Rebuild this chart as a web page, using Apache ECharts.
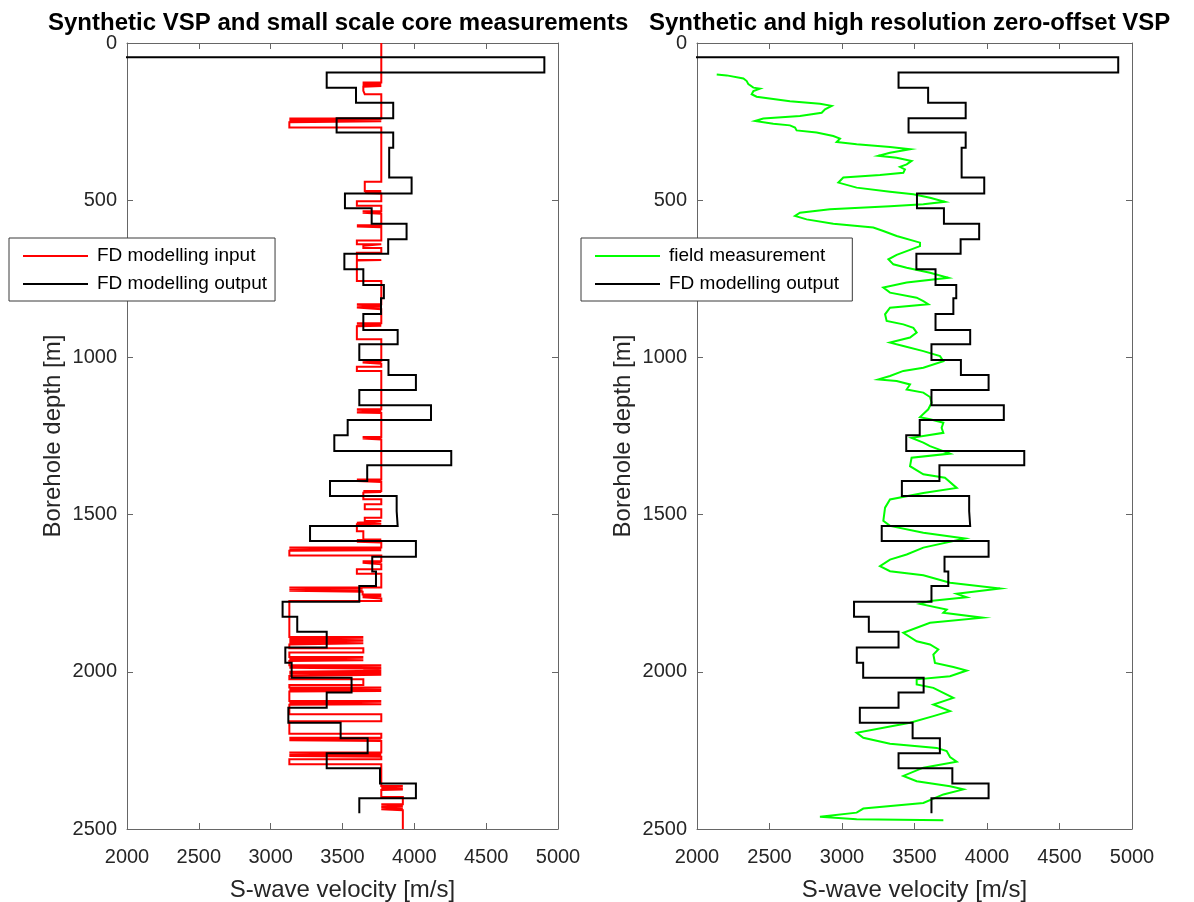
<!DOCTYPE html>
<html>
<head>
<meta charset="utf-8">
<script src="https://cdn.jsdelivr.net/npm/echarts@6/dist/echarts.min.js"></script>
<style>
  html, body { margin: 0; padding: 0; background: #fff; }
  #chart { width: 1194px; height: 902px; }
</style>
</head>
<body>
<div id="chart"></div>
<script>
// Tick values shared by both panels
const velocityTicks = [2000, 2500, 3000, 3500, 4000, 4500, 5000];
const depthTicks = [0, 500, 1000, 1500, 2000, 2500];

// FD modelling input: layer top depth [m] and S-wave velocity [m/s]
const inputTop = [
  0,
  126, 128, 130, 132, 134, 137, 139, 152, 163,
  240, 243, 246, 249, 252, 269,
  441, 471, 473, 475, 477, 479,
  503, 518,
  535, 538, 540, 543,
  580, 582, 584, 586,
  628, 640,
  645, 652,
  667, 690, 692, 757,
  831, 834, 836, 839, 841, 847,
  891, 894, 896, 899, 901, 942,
  1011, 1014, 1016, 1020,
  1030, 1043,
  1165, 1168, 1170, 1173, 1175, 1177,
  1253, 1256, 1258, 1261,
  1388, 1391, 1393, 1396,
  1425, 1428, 1430, 1451,
  1467, 1483,
  1510, 1520,
  1526, 1529, 1531, 1553, 1579, 1581, 1584, 1586, 1589,
  1605, 1608, 1610, 1613, 1615, 1630,
  1648, 1651, 1653, 1658,
  1674, 1688,
  1732, 1735, 1737, 1740, 1742, 1745, 1754, 1757, 1760, 1763, 1767,
  1775,
  1889, 1892, 1894, 1897, 1899, 1902, 1904, 1907, 1909, 1913,
  1925, 1939,
  1953, 1956, 1958, 1961, 1963, 1966,
  1979, 1982, 1984, 1987, 1990, 1995, 1997, 2000, 2003, 2006, 2009, 2013,
  2024, 2042,
  2050, 2053, 2055, 2058, 2061, 2063,
  2093, 2096, 2098, 2101, 2103, 2105,
  2135, 2157,
  2197,
  2210, 2212, 2214, 2216, 2218, 2220,
  2257, 2260, 2262, 2265, 2268, 2270,
  2278, 2294,
  2363, 2366, 2368, 2371, 2374, 2376,
  2398,
  2421, 2424, 2426, 2429, 2432, 2435, 2437, 2440
];
const inputVel = [
  3770,
  3640, 3770, 3640, 3770, 3640, 3770, 3645, 3655, 3770,
  3130, 3770, 3130, 3770, 3130, 3770,
  3655, 3770, 3655, 3770, 3655, 3770,
  3600, 3770,
  3640, 3770, 3640, 3770,
  3600, 3770, 3600, 3770,
  3600, 3770,
  3645, 3770,
  3600, 3770, 3600, 3770,
  3600, 3770, 3600, 3770, 3600, 3770,
  3600, 3770, 3600, 3770, 3600, 3770,
  3640, 3770, 3640, 3770,
  3600, 3770,
  3600, 3770, 3600, 3770, 3600, 3770,
  3640, 3770, 3640, 3770,
  3600, 3770, 3600, 3770,
  3645, 3770, 3645, 3770,
  3655, 3770,
  3655, 3770,
  3600, 3770, 3600, 3645, 3770, 3600, 3770, 3600, 3770,
  3130, 3770, 3130, 3770, 3130, 3770,
  3640, 3770, 3640, 3770,
  3600, 3770,
  3130, 3640, 3130, 3640, 3130, 3640, 3770, 3640, 3770, 3640, 3770,
  3130,
  3645, 3130, 3645, 3130, 3645, 3130, 3645, 3130, 3645, 3130,
  3645, 3130,
  3645, 3130, 3645, 3130, 3645, 3130,
  3770, 3130, 3770, 3130, 3770, 3645, 3770, 3130, 3770, 3130, 3770, 3130,
  3645, 3130,
  3770, 3130, 3770, 3130, 3770, 3130,
  3770, 3130, 3770, 3130, 3770, 3130,
  3770, 3130,
  3770,
  3130, 3770, 3130, 3770, 3130, 3770,
  3130, 3770, 3130, 3770, 3130, 3770,
  3130, 3770,
  3920, 3770, 3920, 3770, 3920, 3770,
  3920,
  3770, 3920, 3770, 3920, 3770, 3920, 3770, 3920
];
const inputBase = 2500;

// FD modelling output: layer top depth [m] and S-wave velocity [m/s]
const outputTop = [
  0, 45, 94, 142, 190, 239, 285, 333, 428, 479,
  526, 575, 624, 670, 720, 770, 812, 862, 913, 958,
  1008, 1056, 1104, 1152, 1199, 1248, 1298, 1343, 1393, 1441,
  1489, 1536, 1584, 1634, 1681, 1727, 1777, 1825, 1873, 1923,
  1971, 2019, 2066, 2114, 2162, 2211, 2259, 2307, 2355, 2402
];
const outputVel = [
  0, 4905, 3390, 3594, 3853, 3459, 3853, 3825, 3981, 3517,
  3703, 3946, 3818, 3513, 3645, 3788, 3768, 3645, 3884, 3617,
  3820, 4011, 3617, 4116, 3536, 3443, 4257, 3672, 3413, 3877,
  3884, 3274, 4011, 3707, 3733, 3617, 3083, 3185, 3390, 3102,
  3146, 3563, 3390, 3123, 3487, 3675, 3390, 3761, 4011, 3617
];
const outputBase = 2450;

// Field measurement (high resolution zero-offset VSP)
const fieldDepth = [
  100, 103, 113, 121, 131, 142, 145, 153, 163, 171,
  185, 193, 200, 211, 222, 232, 240, 248, 257, 262,
  269, 278, 285, 296, 304, 315, 322, 331, 338, 349,
  359, 365, 375, 386, 394, 402, 413, 420, 428, 444,
  460, 473, 481, 492, 505, 513, 519, 529, 540, 550,
  561, 575, 587, 598, 614, 635, 646, 662, 674, 688,
  704, 715, 731, 747, 762, 778, 794, 810, 821, 831,
  842, 863, 884, 895, 906, 921, 937, 953, 964, 980,
  996, 1012, 1033, 1043, 1059, 1070, 1075, 1086, 1102, 1112,
  1126, 1144, 1165, 1190, 1197, 1208, 1224, 1240, 1256, 1271,
  1282, 1306, 1319, 1346, 1372, 1383, 1415, 1431, 1452, 1478,
  1520, 1536, 1558, 1576, 1605, 1627, 1643, 1664, 1680, 1693,
  1717, 1735, 1752, 1763, 1775, 1784, 1802, 1812, 1828, 1844,
  1876, 1903, 1913, 1929, 1945, 1972, 1985, 1996, 2014, 2024,
  2040, 2051, 2083, 2104, 2125, 2141, 2162, 2194, 2210, 2229,
  2242, 2252, 2271, 2286, 2305, 2331, 2348, 2364, 2374, 2390,
  2417, 2435, 2448, 2461, 2469, 2472
];
const fieldVel = [
  2136, 2205, 2320, 2343, 2354, 2389, 2434, 2389, 2377, 2411,
  2641, 2848, 2929, 2883, 2860, 2710, 2457, 2400, 2526, 2641,
  2676, 2687, 2825, 2940, 2986, 2963, 3101, 3331, 3469, 3331,
  3251, 3377, 3480, 3446, 3400, 3434, 3423, 3262, 3009, 2975,
  3101, 3331, 3492, 3607, 3710, 3561, 3331, 2917, 2710, 2676,
  2756, 2940, 3216, 3285, 3377, 3538, 3538, 3446, 3377, 3320,
  3354, 3446, 3607, 3733, 3446, 3285, 3331, 3515, 3561, 3595,
  3331, 3297, 3308, 3423, 3492, 3515, 3469, 3331, 3423, 3561,
  3676, 3699, 3561, 3423, 3331, 3251, 3377, 3469, 3446, 3561,
  3607, 3618, 3595, 3538, 3607, 3699, 3687, 3699, 3480, 3561,
  3607, 3745, 3480, 3469, 3561, 3710, 3791, 3561, 3331, 3297,
  3285, 3331, 3561, 3848, 3561, 3446, 3331, 3262, 3331, 3561,
  3745, 4090, 3791, 3860, 3607, 3538, 3722, 3699, 3970, 3607,
  3423, 3515, 3607, 3664, 3630, 3641, 3768, 3860, 3745, 3515,
  3515, 3630, 3768, 3630, 3745, 3630, 3469, 3101, 3147, 3331,
  3653, 3722, 3745, 3791, 3561, 3423, 3515, 3745, 3837, 3699,
  3561, 3147, 3101, 2848, 3101, 3699
];

// Turn a layered model into a staircase path of [velocity, depth] points
function stairs(tops, vels, base) {
  const pts = [];
  for (let i = 0; i < tops.length; i++) {
    const bottom = i + 1 < tops.length ? tops[i + 1] : base;
    pts.push([vels[i], tops[i]]);
    pts.push([vels[i], bottom]);
  }
  return pts;
}

const FONT = 'Liberation Sans, Arial, Helvetica, sans-serif';
const AXIS_COLOR = '#666666';
const LABEL_COLOR = '#262626';
const plain = v => String(v);

function xAxes(gridIndex) {
  const common = {
    gridIndex: gridIndex, type: 'value',
    min: velocityTicks[0], max: velocityTicks[velocityTicks.length - 1],
    interval: velocityTicks[1] - velocityTicks[0],
    splitLine: { show: false },
    axisLine: { show: true, onZero: false, lineStyle: { color: AXIS_COLOR, width: 1 } },
    axisTick: { show: true, inside: true, length: 6, lineStyle: { color: AXIS_COLOR, width: 1 } }
  };
  return [
    Object.assign({}, common, {
      position: 'bottom',
      name: 'S-wave velocity [m/s]', nameLocation: 'middle', nameGap: 49,
      nameTextStyle: { fontFamily: FONT, fontSize: 24, color: LABEL_COLOR },
      axisLabel: { fontFamily: FONT, fontSize: 20, color: LABEL_COLOR, margin: 18, formatter: plain }
    }),
    Object.assign({}, common, { position: 'top', axisLabel: { show: false } })
  ];
}

function yAxes(gridIndex) {
  const common = {
    gridIndex: gridIndex, type: 'value', inverse: true,
    min: depthTicks[0], max: depthTicks[depthTicks.length - 1],
    interval: depthTicks[1] - depthTicks[0],
    splitLine: { show: false },
    axisLine: { show: true, onZero: false, lineStyle: { color: AXIS_COLOR, width: 1 } },
    axisTick: { show: true, inside: true, length: 6, lineStyle: { color: AXIS_COLOR, width: 1 } }
  };
  return [
    Object.assign({}, common, {
      position: 'left',
      name: 'Borehole depth [m]', nameLocation: 'middle', nameGap: 62, nameRotate: 90,
      nameTextStyle: { fontFamily: FONT, fontSize: 24, color: LABEL_COLOR },
      axisLabel: { fontFamily: FONT, fontSize: 20, color: LABEL_COLOR, margin: 10, formatter: plain }
    }),
    Object.assign({}, common, { position: 'right', axisLabel: { show: false } })
  ];
}

function legend(left, names) {
  return {
    orient: 'vertical', left: left, top: 238,
    data: names,
    icon: 'rect',
    backgroundColor: '#ffffff',
    borderColor: '#3a3a3a', borderWidth: 1,
    padding: [7, 8, 6, 14],
    itemWidth: 65, itemHeight: 2, itemGap: 6,
    textStyle: { fontFamily: FONT, fontSize: 19, color: '#000', lineHeight: 22, padding: [0, 0, 0, 4] }
  };
}

function lineSeries(name, data, color, xi, yi, z) {
  return {
    name: name, type: 'line', data: data,
    xAxisIndex: xi, yAxisIndex: yi,
    symbol: 'none', showSymbol: false, smooth: false,
    lineStyle: { color: color, width: 2, join: 'miter' },
    itemStyle: { color: color },
    clip: true, z: z, animation: false
  };
}

const chart = echarts.init(document.getElementById('chart'), null, { renderer: 'canvas' });

chart.setOption({
  backgroundColor: '#ffffff',
  animation: false,
  title: [
    { text: 'Synthetic VSP and small scale core measurements', left: 48, top: 11, padding: 0,
      textStyle: { fontFamily: FONT, fontSize: 24, fontWeight: 'bold', color: '#000' } },
    { text: 'Synthetic and high resolution zero-offset VSP', left: 649, top: 11, padding: 0,
      textStyle: { fontFamily: FONT, fontSize: 24, fontWeight: 'bold', color: '#000' } }
  ],
  grid: [
    { left: 127, top: 43, width: 431, height: 786, containLabel: false, outerBoundsMode: 'none' },
    { left: 697, top: 43, width: 435, height: 786, containLabel: false, outerBoundsMode: 'none' }
  ],
  xAxis: xAxes(0).concat(xAxes(1)),
  yAxis: yAxes(0).concat(yAxes(1)),
  legend: [
    legend(9, ['FD modelling input', 'FD modelling output']),
    legend(581, ['field measurement', 'FD modelling output '])
  ],
  series: [
    lineSeries('FD modelling input', stairs(inputTop, inputVel, inputBase), '#ff0000', 0, 0, 2),
    lineSeries('FD modelling output', stairs(outputTop, outputVel, outputBase), '#000000', 0, 0, 3),
    lineSeries('field measurement', fieldVel.map((v, i) => [v, fieldDepth[i]]), '#00ff00', 2, 2, 2),
    lineSeries('FD modelling output ', stairs(outputTop, outputVel, outputBase), '#000000', 2, 2, 3)
  ]
});
</script>
</body>
</html>
